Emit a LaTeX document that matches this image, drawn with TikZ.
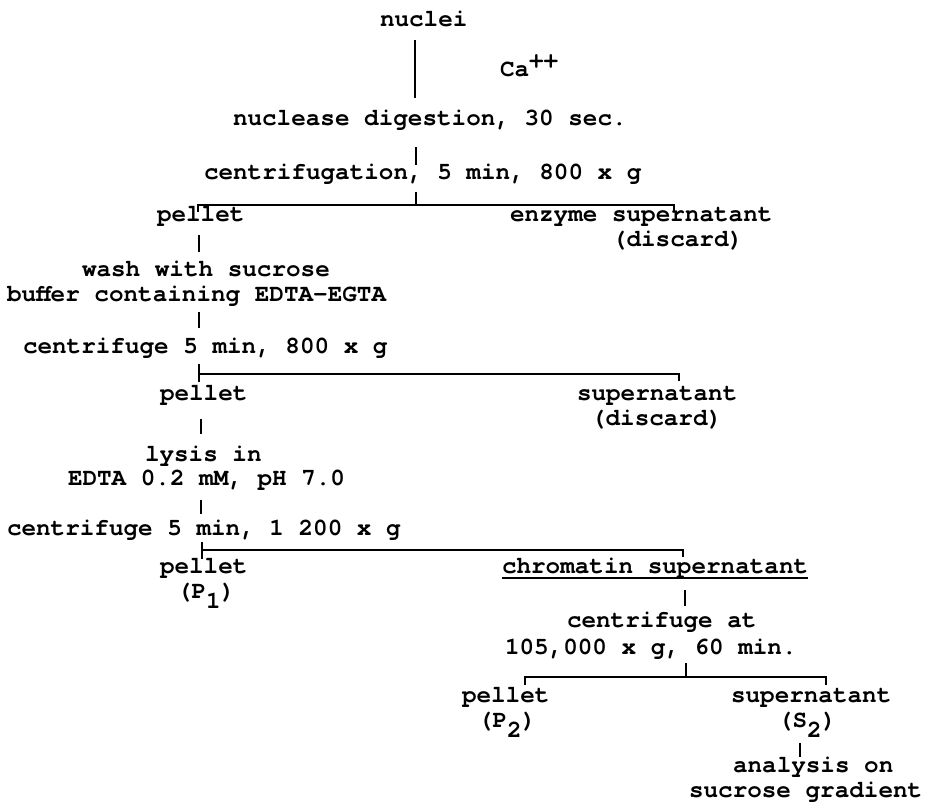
\documentclass[tikz,border=0pt]{standalone}
\usepackage{fontspec}
\newfontfamily\tw{texgyrecursor-bold.otf}
\begin{document}
\begin{tikzpicture}[x=1pt,y=-1pt,
  txt/.style={anchor=base west,inner sep=0pt,outer sep=0pt,font=\tw\fontsize{24.3}{25}\selectfont},
  ln/.style={line width=1.7pt},
  mainln/.style={line width=2.6pt}]
\useasboundingbox (0,0) rectangle (936,803);
% texts
\node[txt] (nuclei) at (380,27) {nuclei};
\node[txt] (ca) at (500,76) {Ca\raisebox{9pt}{++}};
\node[txt] (nuc) at (233,125) {nuclease digestion, 30 sec.};
\node[txt] (cf1) at (204,179) {centrifugation, 5 min, 800 x g};
\node[txt] (p1) at (157,221) {pellet};
\node[txt] (es) at (510,221) {enzyme supernatant};
\node[txt] (d1) at (612,246) {(discard)};
\node[txt] (wash) at (82,276) {wash with sucrose};
\node[txt] (buf) at (7,301) {buffer containing EDTA-EGTA};
\node[txt] (cf2) at (23,353) {centrifuge 5 min, 800 x g};
\node[txt] (p2) at (160,400) {pellet};
\node[txt] (s2) at (577,400) {supernatant};
\node[txt] (d2) at (591,425) {(discard)};
\node[txt] (lys) at (145,461) {lysis in};
\node[txt] (edta) at (68,485) {EDTA 0.2 mM, pH 7.0};
\node[txt] (cf3) at (7,535) {centrifuge 5 min, 1 200 x g};
\node[txt] (p3) at (160,573) {pellet};
\node[txt] (pl1) at (177,598) {(P\raisebox{-10pt}{1})};
\node[txt] (chr) at (502,573) {chromatin supernatant};
\node[txt] (cfat) at (567,627) {centrifuge at};
\node[txt] (g105) at (505,654) {105,000 x g, 60 min.};
\node[txt] (p4) at (462,702) {pellet};
\node[txt] (sup4) at (731,702) {supernatant};
\node[txt] (pl2) at (478,727) {(P\raisebox{-10pt}{2})};
\node[txt] (sl2) at (778,727) {(S\raisebox{-10pt}{2})};
\node[txt] (ana) at (733,772) {analysis on};
\node[txt] (suc) at (689,797) {sucrose gradient};
% coordinates
\coordinate (t0a) at (415,40);  \coordinate (t0b) at (415,98);
\coordinate (t1a) at (416,147); \coordinate (t1b) at (416,165);
\coordinate (b1c) at (416,192); \coordinate (b1m) at (416,205);
\coordinate (b1l) at (198,205); \coordinate (b1ld) at (198,212);
\coordinate (b1r) at (674,205); \coordinate (b1rd) at (674,212);
\coordinate (t2a) at (199,235); \coordinate (t2b) at (199,252);
\coordinate (t3a) at (199,312); \coordinate (t3b) at (199,328);
\coordinate (b2c) at (199,364); \coordinate (b2l) at (199,374); \coordinate (b2ld) at (199,382);
\coordinate (b2r) at (679,374); \coordinate (b2rd) at (679,381);
\coordinate (t4a) at (201,419); \coordinate (t4b) at (201,434);
\coordinate (t5a) at (201,500); \coordinate (t5b) at (201,514);
\coordinate (b3c) at (202,542); \coordinate (b3l) at (202,550); \coordinate (b3ld) at (202,559);
\coordinate (b3r) at (683,550); \coordinate (b3rd) at (683,557);
\coordinate (t6a) at (685,590); \coordinate (t6b) at (685,606);
\coordinate (b4c) at (686,663); \coordinate (b4m) at (686,677);
\coordinate (b4l) at (525,677); \coordinate (b4ld) at (525,685);
\coordinate (b4r) at (826,677); \coordinate (b4rd) at (826,685);
\coordinate (t7a) at (800,743); \coordinate (t7b) at (800,757);
% connectors
\draw[mainln] (t0a) -- (t0b);
\draw[ln] (t1a) -- (t1b);
\draw[ln] (b1c) -- (b1m);
\draw[ln] (b1ld) -- (b1l) -- (b1r) -- (b1rd);
\draw[ln] (t2a) -- (t2b);
\draw[ln] (t3a) -- (t3b);
\draw[ln] (b2c) -- (b2ld);
\draw[ln] (b2l) -- (b2r) -- (b2rd);
\draw[ln] (t4a) -- (t4b);
\draw[ln] (t5a) -- (t5b);
\draw[ln] (b3c) -- (b3ld);
\draw[ln] (b3l) -- (b3r) -- (b3rd);
\draw[ln] ([yshift=-5pt]chr.base west) -- ([yshift=-5pt]chr.base east);
\draw[ln] (t6a) -- (t6b);
\draw[ln] (b4c) -- (b4m);
\draw[ln] (b4ld) -- (b4l) -- (b4r) -- (b4rd);
\draw[ln] (t7a) -- (t7b);
\end{tikzpicture}
\end{document}
